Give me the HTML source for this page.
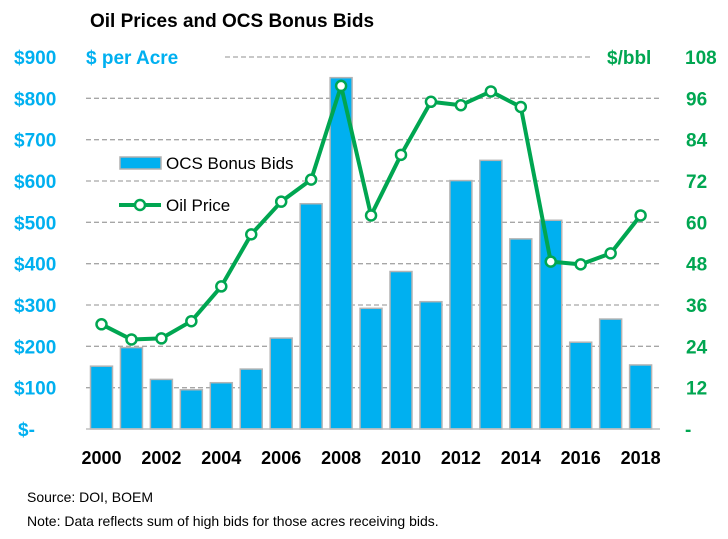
<!DOCTYPE html>
<html><head><meta charset="utf-8"><style>
body{margin:0;background:#fff;}
svg text{font-family:"Liberation Sans",Arial,sans-serif;}
</style></head><body>
<svg id="chart" width="728" height="534" xmlns="http://www.w3.org/2000/svg">
<text x="90" y="27" font-size="19" font-weight="bold" fill="#000">Oil Prices and OCS Bonus Bids</text>
<text x="86" y="64" font-size="19" font-weight="bold" fill="#00b0f0">$ per Acre</text>
<text x="607" y="64" font-size="19" font-weight="bold" fill="#00a651">$/bbl</text>
<g id="grid"></g>
<g id="bars"></g>
<g id="line"></g>
<g id="axes"></g>
<g>
<rect x="120" y="157" width="41" height="12" fill="#00b0f0" stroke="#b0b0b0" stroke-width="1.5"/>
<text x="166" y="169" font-size="17" fill="#000">OCS Bonus Bids</text>
<line x1="119" y1="205" x2="161" y2="205" stroke="#00a651" stroke-width="4"/>
<circle cx="140" cy="205" r="5" fill="#fff" stroke="#00a651" stroke-width="2.5"/>
<text x="166" y="211" font-size="17" fill="#000">Oil Price</text>
</g>
<text x="27" y="502" font-size="14" fill="#000">Source: DOI, BOEM</text>
<text x="27" y="526" font-size="14" fill="#000">Note: Data reflects  sum of high bids for those acres receiving bids.</text>
</svg>
<script>
const years=[2000,2001,2002,2003,2004,2005,2006,2007,2008,2009,2010,2011,2012,2013,2014,2015,2016,2017,2018];
const bids=[152,197,120,95,112,145,220,545,850,292,381,308,601,650,460,505,210,266,155];
const oil=[30.4,26,26.3,31.3,41.4,56.5,66,72.4,99.6,62,79.6,95,94,98,93.5,48.6,47.8,51,62];
const leftTicks=["$-","$100","$200","$300","$400","$500","$600","$700","$800","$900"];
const rightTicks=["-","12","24","36","48","60","72","84","96","108"];
const xLabels=[2000,2002,2004,2006,2008,2010,2012,2014,2016,2018];
const NS="http://www.w3.org/2000/svg";
const y0=429,yTop=57;
const yL=v=>y0-(v/900)*(y0-yTop);
const yR=v=>y0-(v/108)*(y0-yTop);
const x=yr=>101.5+(yr-2000)*29.95;
function mk(t,a,p){const e=document.createElementNS(NS,t);for(const k in a)e.setAttribute(k,a[k]);p.appendChild(e);return e;}
const grid=document.getElementById('grid'),bars=document.getElementById('bars'),line=document.getElementById('line'),axes=document.getElementById('axes');
for(let i=1;i<leftTicks.length;i++){
 const yy=yL(i*100);
 const g=mk('line',{x1:i==9?225:86,x2:i==9?590:660,y1:yy,y2:yy,stroke:'#a6a6a6','stroke-width':1.3,'stroke-dasharray':'5,3'},grid);
 
 
}
leftTicks.forEach((t,i)=>{
 const e=mk('text',{x:i==0?18:14,y:yL(i*100)+7,'font-size':19,'font-weight':'bold',fill:'#00b0f0'},axes);
 e.textContent=t;
 
 
});
rightTicks.forEach((t,i)=>{
 const e=mk('text',{x:i==0?685:(t.length==3?685:686),y:yR(i*12)+7,'font-size':19,'font-weight':'bold',fill:'#00a651'},axes);
 e.textContent=t;
 
 
});
xLabels.forEach(yr=>{
 const e=mk('text',{x:x(yr),y:464,'font-size':18,'font-weight':'bold',fill:'#000','text-anchor':'middle'},axes);
 e.textContent=yr;
 
 
});
const ax=mk('line',{x1:86,x2:660,y1:y0,y2:y0,stroke:'#bfbfbf','stroke-width':1.5},axes);


years.forEach((yr,i)=>{
 const b=mk('rect',{x:x(yr)-11,y:yL(bids[i]),width:22,height:y0-yL(bids[i]),fill:'#00b0f0',stroke:'#b4b4b4','stroke-width':1.5},bars);
 
 
});
const pts=years.map((yr,i)=>x(yr)+','+yR(oil[i])).join(' ');
const pl=mk('polyline',{points:pts,fill:'none',stroke:'#00a651','stroke-width':4,'stroke-linejoin':'round'},line);


years.forEach((yr,i)=>{
 const c=mk('circle',{cx:x(yr),cy:yR(oil[i]),r:5,fill:'#fff',stroke:'#00a651','stroke-width':2.5},line);
 
 
});
</script>
</body></html>
